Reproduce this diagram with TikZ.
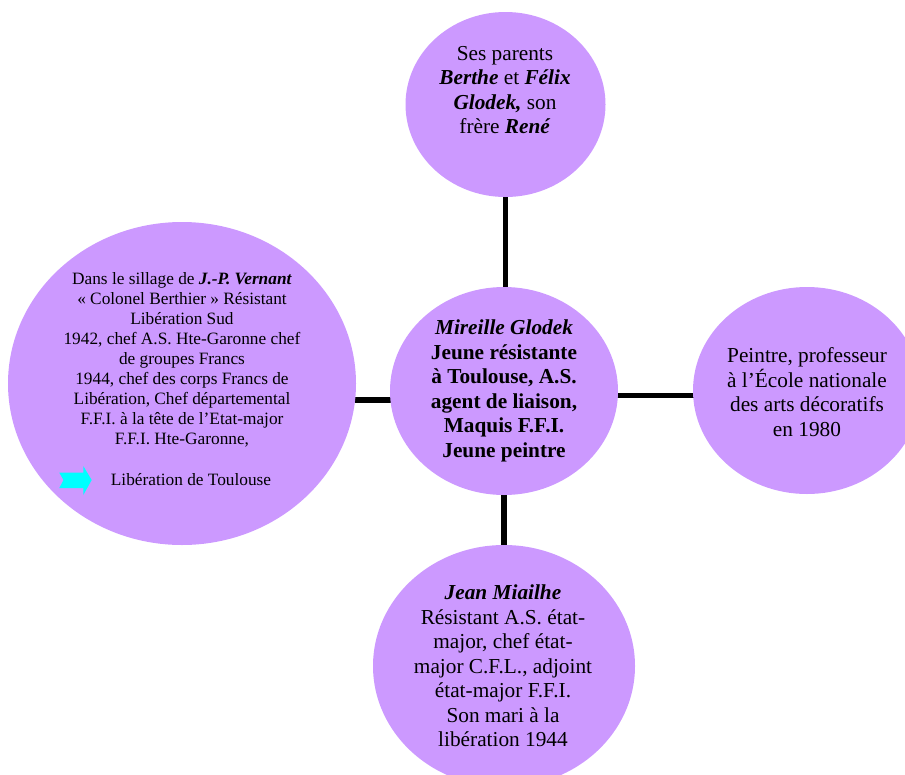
\documentclass[tikz,border=0pt]{standalone}
\usepackage{fontspec}
\setmainfont{Liberation Serif}
\usetikzlibrary{shapes.geometric,backgrounds}
\definecolor{lav}{HTML}{CC99FF}
\definecolor{arrowcyan}{HTML}{00FFFF}
\tikzset{
  bubble/.style={ellipse,fill=lav,draw=none,inner sep=0pt},
  bigtxt/.style={align=center,font=\fontsize{21.3}{24.5}\selectfont,inner sep=0pt},
  smalltxt/.style={align=center,font=\fontsize{17.3}{20}\selectfont,inner sep=0pt},
  link/.style={line width=5.5pt,black}
}
\begin{document}
\begin{tikzpicture}[x=1pt,y=-1pt]
\useasboundingbox (0,0) rectangle (905,774);
\clip (0,0) rectangle (905,774);
% bubbles
\node[bubble,minimum width=200,minimum height=185] (t) at (505.5,104.5) {};
\node[bubble,minimum width=228,minimum height=208] (c) at (504,391) {};
\node[bubble,minimum width=228,minimum height=207] (r) at (807,390.5) {};
\node[bubble,minimum width=348,minimum height=323] (l) at (182,383.5) {};
\node[bubble,minimum width=262,minimum height=242] (b) at (504,666) {};
% connectors
\begin{pgfonlayer}{background}
\draw[link] (t.center) -- (t.center |- c.center);
\draw[link] (c.center) -- (c.center |- b.center);
\draw[link] (c.center |- 0,395.5) -- (r.center |- 0,395.5);
\draw[link] (l.center |- 0,400) -- (c.center |- 0,400);
\end{pgfonlayer}
% texts
\node[bigtxt] (tt) at (505,90) {Ses parents\\\textbf{\textit{Berthe}} et \textbf{\textit{Félix}}\\\textbf{\textit{Glodek,}} son\\frère \textbf{\textit{René}}};
\node[bigtxt] (ct) at (504,391) {\textbf{\textit{Mireille Glodek}}\\\textbf{Jeune résistante}\\\textbf{à Toulouse, A.S.}\\\textbf{agent de liaison,}\\\textbf{Maquis F.F.I.}\\\textbf{Jeune peintre}};
\node[bigtxt] (rt) at (807,392) {Peintre, professeur\\à l’École nationale\\des arts décoratifs\\en 1980};
\node[bigtxt] (bt) at (503,666) {\textbf{\textit{Jean Miailhe}}\\Résistant A.S. état-\\major, chef état-\\major C.F.L., adjoint\\état-major F.F.I.\\Son mari à la\\libération 1944};
\node[smalltxt] (lt) at (182,360) {Dans le sillage de \textbf{\textit{J.-P. Vernant}}\\« Colonel Berthier » Résistant\\Libération Sud\\1942, chef A.S. Hte-Garonne chef\\de groupes Francs\\1944, chef des corps Francs de\\Libération, Chef départemental\\F.F.I. à la tête de l’Etat-major\\F.F.I. Hte-Garonne,};
\node[smalltxt] (lt2) at (191,480) {Libération de Toulouse};
% cyan notched arrow
\fill[arrowcyan] (59.3,472.7) -- (83.3,472.7) -- (83.3,466) -- (91.7,480) -- (83.3,495) -- (83.3,488) -- (59.3,488) -- (63.5,480) -- cycle;
\end{tikzpicture}
\end{document}
